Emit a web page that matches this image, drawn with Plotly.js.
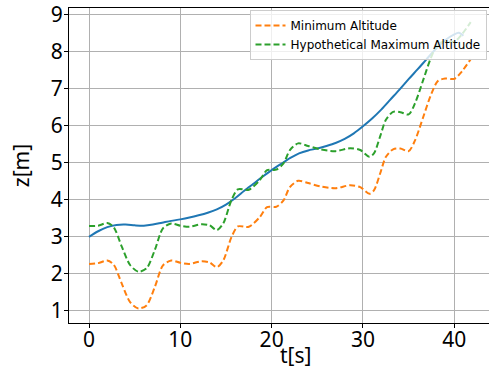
<!DOCTYPE html>
<html>
<head>
<meta charset="utf-8">
<script src="https://cdn.plot.ly/plotly-3.0.1.min.js"></script>
<style>
  html, body { margin: 0; padding: 0; overflow: hidden; background: #fff; }
  #chart { width: 494px; height: 374px; }
</style>
</head>
<body>
<div id="chart"></div>
<script>
// Flight altitude profile: actual trajectory and the two altitude bounds
const tActual = [0, 1, 2, 3, 4, 5, 6, 7, 8, 9, 10, 11, 12, 13, 14, 15, 16, 17, 18, 19, 20,
  21, 22, 23, 24, 25, 26, 27, 28, 29, 30, 31, 32, 33, 34, 35, 36, 37, 38, 39, 40, 40.5, 41];
const zActual = [3.00, 3.15, 3.26, 3.32, 3.33, 3.31, 3.30, 3.33, 3.38, 3.43, 3.47, 3.52, 3.58,
  3.65, 3.74, 3.87, 4.04, 4.24, 4.43, 4.62, 4.80, 4.96, 5.12, 5.25, 5.33, 5.38, 5.45, 5.53,
  5.64, 5.79, 5.98, 6.19, 6.43, 6.70, 6.97, 7.25, 7.52, 7.80, 8.07, 8.30, 8.46, 8.50, 8.42];

const tBounds = [0, 1, 2, 2.7, 3.6, 4.5, 5.4, 6.3, 7.2, 8.1, 9, 10, 11, 12.3, 13.2, 14, 14.7,
  15.6, 16.3, 17.5, 18.7, 19.5, 20.5, 21.3, 22, 22.9, 24, 25.3, 27, 28.6, 29.7, 30.7, 31.2,
  31.9, 32.5, 33.3, 34.1, 35, 35.7, 36.6, 37.4, 38.2, 39, 40, 40.8, 41.8];
const zMinimum = [2.27, 2.29, 2.36, 2.25, 1.73, 1.24, 1.07, 1.15, 1.64, 2.23, 2.36, 2.30, 2.27,
  2.34, 2.31, 2.18, 2.36, 2.99, 3.28, 3.27, 3.53, 3.80, 3.81, 3.98, 4.34, 4.51, 4.45, 4.36,
  4.31, 4.39, 4.34, 4.16, 4.25, 4.72, 5.15, 5.36, 5.38, 5.31, 5.60, 6.23, 6.80, 7.20, 7.27,
  7.26, 7.45, 7.79];
const zMaximum = [3.29, 3.30, 3.37, 3.26, 2.73, 2.24, 2.06, 2.15, 2.64, 3.23, 3.36, 3.30, 3.27,
  3.34, 3.31, 3.18, 3.36, 3.99, 4.28, 4.27, 4.53, 4.80, 4.81, 4.98, 5.34, 5.52, 5.45, 5.36,
  5.31, 5.39, 5.34, 5.16, 5.25, 5.72, 6.15, 6.37, 6.36, 6.30, 6.60, 7.23, 7.80, 8.20, 8.27,
  8.26, 8.45, 8.79];

const xTicks = [0, 10, 20, 30, 40];
const yTicks = [1, 2, 3, 4, 5, 6, 7, 8, 9];

const labelFamily = 'Noto Sans, Open Sans, sans-serif';
const tickFont = { family: labelFamily, size: 21, color: '#000' };

const traces = [
  {
    x: tActual, y: zActual, mode: 'lines', showlegend: false,
    line: { color: '#1f77b4', width: 2, shape: 'spline', smoothing: 0.8 },
    hoverinfo: 'skip'
  },
  {
    x: tBounds, y: zMinimum, mode: 'lines', name: 'Minimum Altitude',
    line: { color: '#ff7f0e', width: 2, dash: '6px,3px', shape: 'spline', smoothing: 0.8 }
  },
  {
    x: tBounds, y: zMaximum, mode: 'lines', name: 'Hypothetical Maximum Altitude',
    line: { color: '#2ca02c', width: 2, dash: '6px,3px', shape: 'spline', smoothing: 0.8 }
  }
];

const layout = {
  width: 494, height: 374,
  margin: { l: 69, r: 2, t: 8, b: 51, pad: 0 },
  paper_bgcolor: '#fff', plot_bgcolor: '#fff',
  showlegend: true,
  xaxis: {
    range: [-2.19, 44.13], tickvals: xTicks, ticktext: xTicks.map(String),
    showgrid: true, gridcolor: '#b0b0b0', gridwidth: 1,
    zeroline: false, showline: true, linecolor: '#000', linewidth: 1, mirror: true,
    ticks: 'outside', ticklen: 4, tickwidth: 1, tickcolor: '#000',
    tickfont: tickFont, ticklabelstandoff: -6, ticklabeloverflow: 'allow'
  },
  yaxis: {
    range: [0.676, 9.17], tickvals: yTicks, ticktext: yTicks.map(String),
    showgrid: true, gridcolor: '#b0b0b0', gridwidth: 1,
    zeroline: false, showline: true, linecolor: '#000', linewidth: 1, mirror: true,
    ticks: 'outside', ticklen: 4, tickwidth: 1, tickcolor: '#000',
    tickfont: tickFont, ticklabelstandoff: -3, ticklabeloverflow: 'allow',
    title: { text: 'z[m]', font: { family: labelFamily, size: 21, color: '#000' }, standoff: 15 }
  },
  legend: {
    x: 0.987, xanchor: 'right', y: 0.994, yanchor: 'top',
    bgcolor: 'rgba(255,255,255,0.8)', bordercolor: '#cccccc', borderwidth: 1,
    font: { family: 'DejaVu Sans, sans-serif', size: 12, color: '#000' },
    itemwidth: 30, tracegroupgap: 0
  },
  annotations: [{
    text: 't[s]', xref: 'paper', yref: 'paper', x: 0.535, y: -0.1,
    xanchor: 'center', yanchor: 'middle', showarrow: false,
    font: { family: labelFamily, size: 21, color: '#000' }
  }]
};

Plotly.newPlot('chart', traces, layout, { staticPlot: true, displayModeBar: false });
</script>
</body>
</html>
